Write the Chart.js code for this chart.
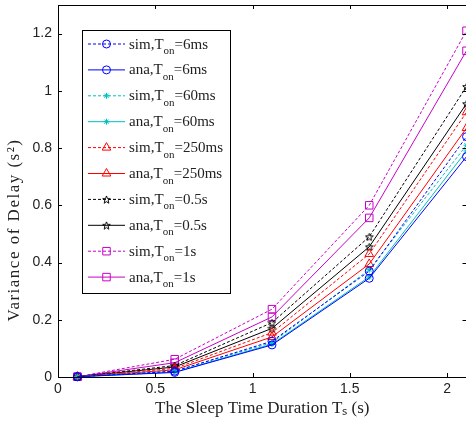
<!DOCTYPE html>
<html>
<head>
<meta charset="utf-8">
<script src="https://cdn.jsdelivr.net/npm/chart.js@4.4.0/dist/chart.umd.min.js"></script>
<style>
  html, body { margin: 0; padding: 0; background: #fff; overflow: hidden; }
  canvas { display: block; }
</style>
</head>
<body>
<canvas id="delayChart" width="468" height="422"></canvas>
<script>
// sleep time durations T_s (s)
const sleepTimes = [0.1, 0.6, 1.1, 1.6, 2.1];
const onTimes = ['6ms', '60ms', '250ms', '0.5s', '1s'];

// variance of delay (s^2)
const sim6ms   = [0.001, 0.020, 0.125, 0.370, 0.840];
const ana6ms   = [0.001, 0.016, 0.112, 0.345, 0.770];
const sim60ms  = [0.001, 0.021, 0.120, 0.375, 0.810];
const ana60ms  = [0.001, 0.017, 0.115, 0.350, 0.790];
const sim250ms = [0.001, 0.030, 0.155, 0.430, 0.925];
const ana250ms = [0.001, 0.025, 0.140, 0.395, 0.870];
const sim05s   = [0.001, 0.040, 0.190, 0.490, 1.015];
const ana05s   = [0.001, 0.035, 0.170, 0.455, 0.955];
const sim1s    = [0.001, 0.062, 0.237, 0.600, 1.210];
const ana1s    = [0.001, 0.050, 0.210, 0.556, 1.140];

const xTicks = [0, 0.5, 1, 1.5, 2];
const xTickLabels = ['0', '0.5', '1', '1.5', '2'];
const yTicks = [0, 0.2, 0.4, 0.6, 0.8, 1, 1.2];
const yTickLabels = ['0', '0.2', '0.4', '0.6', '0.8', '1', '1.2'];

// matlab style pentagram marker
function pentagram(size, color) {
  const c = document.createElement('canvas');
  c.width = c.height = size;
  const g = c.getContext('2d');
  const r = size / 2 - 0.5, cx = size / 2, cy = size / 2 + 0.5;
  g.beginPath();
  for (let i = 0; i < 10; i++) {
    const a = -Math.PI / 2 + i * Math.PI / 5;
    const rr = i % 2 ? r * 0.42 : r;
    g.lineTo(cx + rr * Math.cos(a), cy + rr * Math.sin(a));
  }
  g.closePath();
  g.strokeStyle = color;
  g.lineWidth = 1;
  g.stroke();
  return c;
}

const BLUE = '#0000ff', CYAN = '#00bfbf', RED = '#ff0000', BLACK = '#000000', MAG = '#c800c8';
const star5 = pentagram(9, BLACK);

const series = [
  { kind: 'sim', ton: onTimes[0], data: sim6ms,   color: BLUE,  dash: true,  marker: 'circle',   r: 4 },
  { kind: 'ana', ton: onTimes[0], data: ana6ms,   color: BLUE,  dash: false, marker: 'circle',   r: 4 },
  { kind: 'sim', ton: onTimes[1], data: sim60ms,  color: CYAN,  dash: true,  marker: 'star',     r: 3 },
  { kind: 'ana', ton: onTimes[1], data: ana60ms,  color: CYAN,  dash: false, marker: 'star',     r: 3 },
  { kind: 'sim', ton: onTimes[2], data: sim250ms, color: RED,   dash: true,  marker: 'triangle', r: 5 },
  { kind: 'ana', ton: onTimes[2], data: ana250ms, color: RED,   dash: false, marker: 'triangle', r: 5 },
  { kind: 'sim', ton: onTimes[3], data: sim05s,   color: BLACK, dash: true,  marker: star5,      r: 4 },
  { kind: 'ana', ton: onTimes[3], data: ana05s,   color: BLACK, dash: false, marker: star5,      r: 4 },
  { kind: 'sim', ton: onTimes[4], data: sim1s,    color: MAG,   dash: true,  marker: 'rect',     r: 5.3 },
  { kind: 'ana', ton: onTimes[4], data: ana1s,    color: MAG,   dash: false, marker: 'rect',     r: 5.3 },
];

const datasets = series.map(s => ({
  label: `${s.kind},T_on=${s.ton}`,
  data: sleepTimes.map((x, i) => ({ x, y: s.data[i] })),
  borderColor: s.color,
  borderWidth: 1,
  borderDash: s.dash ? [3, 2] : [],
  pointStyle: s.marker,
  pointRadius: s.r,
  pointBorderColor: s.color,
  pointBackgroundColor: 'rgba(0,0,0,0)',
  pointBorderWidth: 1,
  tension: 0,
  clip: false,
}));

const serif = '"Liberation Serif", "Times New Roman", serif';

// box + inward ticks, like a matlab axes; y label drawn here too
const framePlugin = {
  id: 'frame',
  afterDraw(chart) {
    const { ctx, chartArea: a, scales: { x, y } } = chart;
    ctx.save();
    ctx.strokeStyle = '#000';
    ctx.lineWidth = 1;
    ctx.beginPath();
    ctx.rect(Math.round(a.left) + 0.5, Math.round(a.top) + 0.5,
             Math.round(a.right - a.left), Math.round(a.bottom - a.top));
    xTicks.forEach(v => {
      const px = Math.round(x.getPixelForValue(v)) + 0.5;
      ctx.moveTo(px, a.bottom); ctx.lineTo(px, a.bottom - 4);
      ctx.moveTo(px, a.top); ctx.lineTo(px, a.top + 4);
    });
    yTicks.forEach(v => {
      const py = Math.round(y.getPixelForValue(v)) + 0.5;
      ctx.moveTo(a.left, py); ctx.lineTo(a.left + 4, py);
      ctx.moveTo(a.right, py); ctx.lineTo(a.right - 4, py);
    });
    ctx.stroke();

    // y axis title
    ctx.translate(15, 230);
    ctx.rotate(-Math.PI / 2);
    ctx.fillStyle = '#222';
    ctx.font = '17px ' + serif;
    if ('letterSpacing' in ctx) ctx.letterSpacing = '1.5px';
    ctx.textAlign = 'center';
    ctx.textBaseline = 'middle';
    ctx.fillText('Variance of Delay (s²)', 0, 0);
    ctx.restore();
  }
};

// legend with subscripted T_on
const legendPlugin = {
  id: 'matLegend',
  afterDraw(chart) {
    const { ctx } = chart;
    const box = { l: 82.5, t: 30.5, w: 148, h: 263 };
    ctx.save();
    ctx.fillStyle = '#fff';
    ctx.fillRect(box.l, box.t, box.w, box.h);
    ctx.strokeStyle = '#000';
    ctx.lineWidth = 1;
    ctx.strokeRect(box.l, box.t, box.w, box.h);
    chart.data.datasets.forEach((ds, i) => {
      const cy = 44 + i * 25.9;
      ctx.save();
      ctx.strokeStyle = ds.borderColor;
      ctx.lineWidth = 1;
      ctx.setLineDash(ds.borderDash);
      ctx.beginPath();
      ctx.moveTo(88, cy); ctx.lineTo(125, cy);
      ctx.stroke();
      ctx.setLineDash([]);
      ctx.fillStyle = 'rgba(0,0,0,0)';
      Chart.helpers.drawPoint(ctx, {
        pointStyle: ds.pointStyle, radius: ds.pointRadius, borderWidth: 1, rotation: 0
      }, 106.5, cy);
      ctx.restore();

      const [pre, post] = ds.label.split('_on');
      ctx.fillStyle = '#222';
      ctx.textBaseline = 'alphabetic';
      ctx.font = '15px ' + serif;
      let tx = 129;
      ctx.fillText(pre, tx, cy + 4.5);
      tx += ctx.measureText(pre).width;
      ctx.font = '11px ' + serif;
      ctx.fillText('on', tx, cy + 10);
      tx += ctx.measureText('on').width;
      ctx.font = '15px ' + serif;
      ctx.fillText(post, tx, cy + 4.5);
    });
    ctx.restore();
  }
};

const tickFont = { family: '"Liberation Sans", Arial, sans-serif', size: 14 };
const noPad = s => { s.paddingTop = 0; s.paddingBottom = 0; s.paddingLeft = 0; s.paddingRight = 0; };

new Chart(document.getElementById('delayChart').getContext('2d'), {
  type: 'line',
  data: { datasets },
  options: {
    responsive: false,
    animation: false,
    layout: { autoPadding: false, padding: { top: 5, right: 1.5, left: 0, bottom: 0 } },
    plugins: {
      legend: { display: false },
      tooltip: { enabled: false }
    },
    scales: {
      x: {
        type: 'linear',
        min: 0,
        max: 2.1,
        afterBuildTicks: s => { s.ticks = xTicks.map(v => ({ value: v })); },
        afterFit: s => { s.height = 45; noPad(s); },
        grid: { display: false, drawTicks: false },
        border: { display: false },
        ticks: {
          font: tickFont, color: '#222', padding: 4, maxRotation: 0, autoSkip: false,
          callback: (v, i) => xTickLabels[i]
        },
        title: {
          display: true, text: 'The Sleep Time Duration Tₛ (s)',
          font: { family: serif, size: 17 }, color: '#222',
          padding: { top: 0, bottom: 3 }
        }
      },
      y: {
        min: 0,
        max: 1.3,
        afterBuildTicks: s => { s.ticks = yTicks.map(v => ({ value: v })); },
        afterFit: s => { s.width = 58; noPad(s); },
        grid: { display: false, drawTicks: false },
        border: { display: false },
        ticks: {
          font: tickFont, color: '#222', padding: 6, autoSkip: false,
          callback: (v, i) => yTickLabels[i]
        },
        title: { display: false }
      }
    }
  },
  plugins: [framePlugin, legendPlugin]
});
</script>
</body>
</html>
